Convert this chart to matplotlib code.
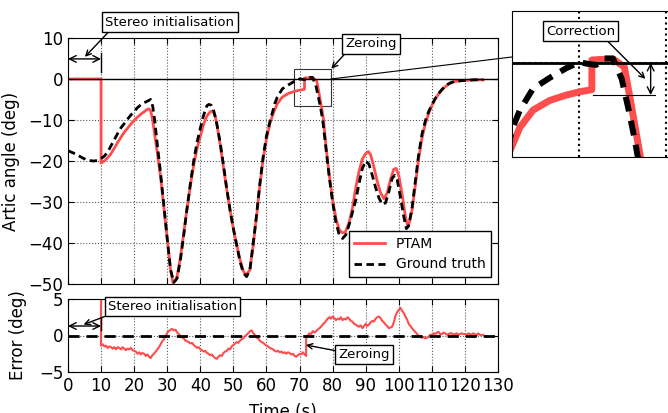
import matplotlib
matplotlib.use('Agg')
import matplotlib.pyplot as plt
import numpy as np
from matplotlib.patches import Rectangle, ConnectionPatch

# --- data ---
t_ptam = [0, 10, 10, 11, 12, 13, 14, 15, 16, 17, 18, 19, 20, 21, 22, 23, 24, 24.5, 25, 25.6, 26.2,
          27, 28, 29, 30, 31, 31.7, 32.5, 33, 34, 35, 36, 37, 38, 39, 40, 41, 42, 43, 43.7, 44.5,
          45, 46, 47, 48, 49, 50, 51, 52, 53, 53.8, 55, 56, 57, 58, 59, 60, 61, 62, 63.3, 64.8,
          66.7, 68.6, 70.1, 71.5, 71.5, 72.4, 74, 75.2, 75.9, 76.7, 77.2, 78, 79, 80, 81, 82, 83,
          83.8, 85, 86, 87, 88, 89, 90, 90.8, 91.5, 92.5, 93.5, 94.5, 95.5, 96.5, 97.5, 98.5, 99.2,
          100, 101, 102, 102.6, 103.2, 104, 105, 106, 107, 108, 109, 110, 111, 112, 113, 114, 115,
          116, 117, 119, 121, 123, 125.5]
ptam = [0, 0, -20.5, -20.0, -19.2, -18.2, -16.9, -15.5, -14.2, -13.0, -12.0, -11.0, -10.1, -9.3,
        -8.6, -8.0, -7.4, -7.3, -7.8, -10.0, -13.5, -18.0, -24.0, -31.5, -39.0, -46.5, -49.6,
        -49.2, -48.0, -43.5, -37.5, -31.5, -26.0, -21.0, -17.0, -14.0, -11.0, -9.0, -8.0, -7.8,
        -9.0, -11.0, -16.0, -21.5, -27.0, -32.0, -36.5, -40.5, -44.0, -46.8, -48.0, -46.5, -40.5,
        -33.5, -26.0, -19.5, -14.7, -11.0, -8.5, -6.0, -4.4, -3.5, -3.0, -2.7, -2.5, 0.25, 0.3,
        0.3, -0.4, -3.5, -7.2, -9.5, -16.5, -23.5, -29.5, -34.0, -36.8, -37.5, -37.4, -35.0,
        -31.5, -26.5, -22.5, -19.5, -18.2, -17.7, -18.5, -21.5, -25.0, -27.8, -29.2, -27.8, -24.5,
        -22.0, -21.8, -23.5, -28.0, -33.5, -35.6, -35.0, -32.0, -26.0, -19.5, -14.5, -11.0, -8.5,
        -6.5, -4.9, -3.7, -2.7, -1.9, -1.3, -0.9, -0.6, -0.4, -0.3, -0.2, -0.2]

t_gt = [0, 1.5, 3, 4.5, 6, 7.5, 9, 10, 11, 12, 13, 14, 15, 16, 17, 18, 19, 20, 21, 22, 23, 24, 25,
        25.6, 26.2, 27, 28, 29, 30, 31, 32, 33, 34, 35, 36, 37, 38, 39, 40, 41, 42, 42.6, 43.3, 44,
        45, 46, 47, 48, 49, 50, 51, 52, 53, 54, 55, 56, 57, 58, 59, 60, 61, 62, 62.5, 63.3, 64.8,
        66.7, 68.6, 70.1, 71, 72, 72.8, 73.9, 74.9, 75.7, 76.4, 77, 78, 79, 80, 81, 82, 83, 84,
        85, 86, 87, 88, 89, 90, 91, 92, 93, 94, 95, 96, 97, 98, 98.8, 99.5, 100.5, 101.5, 102.3,
        103, 104, 105, 106, 107, 108, 109, 110, 111, 112, 113, 114, 115, 116, 117, 119, 121, 123,
        125.5]
gt = [-17.5, -18.0, -18.6, -19.3, -19.8, -20.0, -19.9, -19.4, -18.8, -17.8, -16.3, -14.8, -13.3,
      -11.9, -10.9, -9.8, -8.8, -7.9, -7.0, -6.3, -5.8, -5.4, -5.0, -6.6, -10.0, -16.0, -23.0,
      -31.0, -39.0, -46.5, -49.6, -48.6, -44.0, -38.0, -31.5, -25.5, -20.0, -15.5, -12.0, -8.8,
      -6.5, -6.2, -6.4, -7.5, -11.0, -15.5, -21.0, -26.8, -32.0, -36.5, -40.5, -44.5, -47.3,
      -48.2, -46.5, -40.0, -33.2, -25.5, -19.0, -13.9, -10.5, -7.6, -6.0, -4.4, -2.4, -1.4, -0.5,
      0.05, -0.1, -0.2, 0.4, 0.4, -1.5, -4.4, -7.2, -10.0, -17.0, -24.0, -30.0, -35.0, -38.0,
      -38.9, -38.0, -35.5, -32.5, -29.5, -25.5, -21.8, -20.0, -20.8, -23.5, -26.5, -29.0, -30.6,
      -30.2, -27.5, -24.2, -23.5, -24.5, -28.8, -33.5, -36.5, -35.8, -31.5, -25.0, -18.5, -13.5,
      -10.3, -8.0, -6.3, -4.8, -3.6, -2.6, -1.8, -1.2, -0.8, -0.6, -0.4, -0.3, -0.2, -0.2]

# error, sampled every second before init (off scale), then every half second
err_init = [17.5, 17.9, 18.3, 18.7, 19.0, 19.3, 19.8, 19.9, 19.9, 19.8, 19.4]  # t = 0..10
err_a = [-1.4, -1.2, -1.5, -1.4, -1.7, -1.5, -1.6, -1.8, -1.6, -1.9, -1.6, -1.7, -1.9, -1.6,
         -1.8, -2.0, -1.8, -1.9, -1.7, -2.0, -2.1, -2.2, -2.5, -2.3, -2.6, -2.4, -2.5, -2.8,
         -2.6, -2.9, -3.1, -2.7, -2.5, -2.2, -1.9, -1.6, -1.2, -0.8, -0.5, -0.1, 0.4, 0.6, 0.8,
         0.9, 0.7, 0.8, 0.4, 0.2, -0.1, -0.3, -0.4, -0.7, -0.8, -0.9, -1.1, -1.0, -1.3, -1.5,
         -1.7, -1.6, -1.9, -2.0, -2.2, -2.1, -2.4, -2.5, -2.7, -2.6, -2.9, -3.1, -3.2, -2.9,
         -2.7, -2.8, -2.4, -2.2, -2.1, -1.8, -1.9, -1.5, -1.3, -1.1, -0.9, -1.0, -0.7, -0.5,
         -0.4, -0.1, 0.1, 0.3, 0.6, 0.7, 0.3, 0.1, -0.3, -0.4, -0.7, -0.9, -1.0, -1.2, -1.4,
         -1.5, -1.7, -1.8, -1.9, -2.1, -2.2, -2.1, -2.3, -2.2, -2.4, -2.3, -2.5, -2.3, -2.4,
         -2.6, -2.5, -2.8, -2.9, -2.7, -2.5, -2.6, -2.3, -2.6, -2.8]  # t = 10..72
err_b = [-0.1, 0.0, 0.3, 0.2, 0.6, 0.4, 0.6, 0.8, 1.0, 1.2, 1.5, 1.7, 2.0, 2.3, 2.5, 2.3, 2.6,
         2.4, 2.1, 2.3, 2.2, 2.5, 2.1, 2.3, 2.2, 2.5, 2.3, 2.0, 1.9, 1.6, 1.5, 1.3, 1.2, 1.4,
         1.0, 1.3, 1.6, 1.3, 1.5, 1.8, 2.0, 1.9, 2.3, 2.5, 2.6, 2.4, 2.0, 1.8, 1.5, 1.3, 1.0,
         1.1, 1.2, 1.8, 2.7, 3.2, 3.5, 3.8, 3.4, 3.1, 2.6, 2.2, 1.6, 1.3, 1.0, 0.7, 0.5, 0.2,
         0.0, -0.2, -0.3, -0.2, -0.4, -0.3, -0.2, 0.1, 0.1, 0.3, 0.2, 0.4, 0.5, 0.2, 0.2, 0.4,
         0.3, 0.1, 0.2, 0.3, 0.3, 0.1, 0.2, 0.3, 0.1, 0.2, 0.3, 0.2, 0.2, 0.1, 0.3, 0.2, 0.1,
         0.3, 0.2, 0.0, 0.3, 0.1, 0.0, 0.1]  # t = 72..125.5

t_err = list(range(0, 11)) + list(np.arange(len(err_a)) * 0.5 + 10) + \
    list(np.arange(len(err_b)) * 0.5 + 72)
err = err_init + err_a + err_b

RED = '#ff4c4c'
plt.rcParams['font.family'] = ['DejaVu Sans']
plt.rcParams['font.size'] = 12

fig = plt.figure(figsize=(6.68, 4.13), dpi=100)
W, H = 668.0, 413.0
ax = fig.add_axes([68 / W, (H - 284) / H, 430 / W, 246 / H])
ax2 = fig.add_axes([68 / W, (H - 372) / H, 430 / W, 73 / H])
axin = fig.add_axes([512 / W, (H - 157) / H, 172 / W, 146 / H])

box = dict(boxstyle='square,pad=0.25', fc='white', ec='black', lw=1)
ann_fs = 9.5

# main axes
ax.plot(t_ptam, ptam, color=RED, lw=2, label='PTAM')
ax.plot(t_gt, gt, color='black', lw=2, dashes=(2.7, 1.6), label='Ground truth')
ax.axhline(0, color='black', lw=1)
ax.set_xlim(0, 130)
ax.set_ylim(-50, 10)
ax.set_xticks(range(0, 131, 10))
ax.set_yticks(range(-50, 11, 10))
ax.set_xticklabels([])
ax.grid(True, ls=':', color='0.35', lw=0.8)
ax.tick_params(direction='in', top=True, right=True, labelsize=12, length=4)
ax.set_ylabel('Artic angle (deg)', fontsize=12)
ax.yaxis.set_label_coords(-0.112, 0.5)
leg = ax.legend(loc='lower right', fontsize=10, fancybox=False, framealpha=1,
                edgecolor='black', handlelength=2.2, borderaxespad=0.5)
leg.get_frame().set_linewidth(1)

ax.add_patch(Rectangle((68.3, -6.6), 11.2, 9.0, fill=False, ec='0.2', lw=0.8))
ax.annotate('', xy=(0, 4.9), xytext=(10, 4.9),
            arrowprops=dict(arrowstyle='<->', lw=1, shrinkA=0, shrinkB=0))
ax.plot([10, 10], [1.8, 6.4], color='black', lw=1)
ax.annotate('Stereo initialisation', xy=(5.1, 5.4), xytext=(30.8, 13.9), fontsize=ann_fs,
            ha='center', va='center', bbox=box, annotation_clip=False,
            arrowprops=dict(arrowstyle='->', lw=1, relpos=(0.05, 0), shrinkA=0, shrinkB=0))
ax.annotate('Zeroing', xy=(79.6, 2.5), xytext=(91.7, 8.6), fontsize=ann_fs,
            ha='center', va='center', bbox=box, annotation_clip=False,
            arrowprops=dict(arrowstyle='->', lw=1, relpos=(0.05, 0), shrinkA=0, shrinkB=0))

# error axes
ax2.plot(t_err, err, color=RED, lw=1.5)
ax2.axhline(0, color='black', lw=2, dashes=(4, 2.5))
ax2.set_xlim(0, 130)
ax2.set_ylim(-5, 5)
ax2.set_xticks(range(0, 131, 10))
ax2.set_yticks([-5, 0, 5])
ax2.grid(True, ls=':', color='0.35', lw=0.8)
ax2.tick_params(direction='in', top=True, right=True, labelsize=12, length=4)
ax2.set_ylabel('Error (deg)', fontsize=12)
ax2.yaxis.set_label_coords(-0.095, 0.5)
ax2.set_xlabel('Time (s)', fontsize=12)
ax2.xaxis.set_label_coords(0.5, -0.43)
ax2.annotate('', xy=(0, 1.3), xytext=(10, 1.3),
             arrowprops=dict(arrowstyle='<->', lw=1, shrinkA=0, shrinkB=0))
ax2.plot([10, 10], [0.7, 2.4], color='black', lw=1)
ax2.annotate('Stereo initialisation', xy=(4.7, 1.5), xytext=(31.6, 4.0), fontsize=ann_fs,
             ha='center', va='center', bbox=box, annotation_clip=False,
             arrowprops=dict(arrowstyle='->', lw=1, relpos=(0.05, 0), shrinkA=0, shrinkB=0))
ax2.annotate('Zeroing', xy=(71.9, -1.3), xytext=(89.5, -2.6), fontsize=ann_fs,
             ha='center', va='center', bbox=box, annotation_clip=False,
             arrowprops=dict(arrowstyle='->', lw=1, relpos=(0, 0.75), shrinkA=0, shrinkB=0))

# zoomed inset
axin.plot(t_ptam, ptam, color=RED, lw=5)
axin.plot(t_gt, gt, color='black', lw=4.3, dashes=(2.5, 1.6))
axin.axhline(0, color='black', lw=2)
axin.set_xlim(62.4, 82.0)
axin.set_ylim(-8.75, 4.8)
axin.set_xticks([70, 80])
axin.set_yticks([0])
axin.grid(True, ls=':', color='black', lw=1.5)
axin.tick_params(length=0, labelbottom=False, labelleft=False)
axin.plot([71.6, 78.65], [-3, -3], color='black', lw=0.8)
axin.annotate('', xy=(78.2, 0), xytext=(78.2, -3),
              arrowprops=dict(arrowstyle='<->', lw=1, shrinkA=0, shrinkB=0))
axin.annotate('Correction', xy=(77.6, -1.5), xytext=(70.2, 2.94), fontsize=ann_fs,
              ha='center', va='center', bbox=box,
              arrowprops=dict(arrowstyle='->', lw=1, relpos=(0.84, 0), shrinkA=0, shrinkB=0))

con = ConnectionPatch(xyA=(79.5, 0), coordsA=ax.transData, xyB=(0, 0.685),
                      coordsB=axin.transAxes, color='black', lw=0.8)
fig.add_artist(con)

fig.savefig('out.png', dpi=100)
